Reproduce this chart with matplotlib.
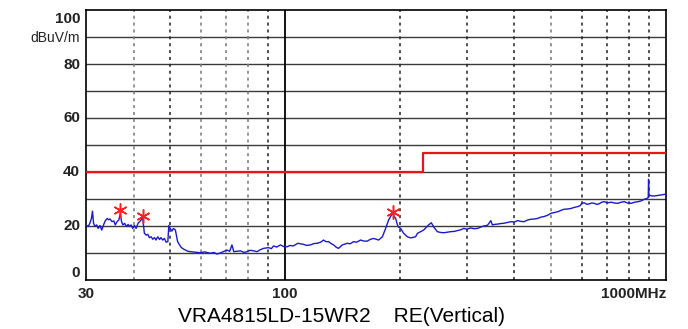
import matplotlib
matplotlib.use("Agg")
import matplotlib.pyplot as plt

plt.rcParams['font.family'] = ['Liberation Sans', 'DejaVu Sans']

freq = [30, 30.4, 30.7, 31.0, 31.2, 31.4, 31.7, 32.0, 32.3, 32.65, 33.0, 33.4, 33.7, 34.1, 34.4,
        34.7, 35.1, 35.5, 35.8, 36.2, 36.6, 36.9, 37.2, 37.5, 37.9, 38.3, 38.7, 39.0, 39.4, 39.8,
        40.2, 40.6, 41.1, 41.5, 41.9, 42.2, 42.5, 42.7, 43.2, 43.6, 44.0, 44.5, 44.9, 45.4, 45.8,
        46.3, 46.8, 47.2, 47.7, 48.2, 48.7, 49.2, 49.5, 49.9, 50.4, 50.9, 51.5, 51.8, 52.2, 52.8,
        53.4, 54.2, 55.4,
        56.3, 58, 59.9, 61.5, 63.6, 65, 66.2, 67.5, 68.8, 70.4, 71.5, 72.5, 73.3, 74.4, 76.3,
        78, 79.4, 81, 82, 84.4, 86, 87.7, 90.4, 92, 93.2, 95, 97.2, 99, 101.2, 103, 105, 108,
        111.7, 114, 116.6, 119, 121.4, 124, 126.1, 128, 130, 132, 134, 136, 138, 141.3, 145.6,
        148, 151.3, 154, 157.8, 161, 164.4, 167, 170.7, 176, 180, 183.6, 187, 191.3, 195, 197.8,
        201, 204.7, 209.4, 213.6, 220, 222.6, 231, 238, 242, 245.6, 251, 256, 261, 266, 272,
        278, 283.5, 289, 294.6, 300, 307, 313, 320, 326, 332.5, 340, 346.8, 350, 355, 361,
        368, 375, 383, 391.6, 400, 408, 416, 424, 433, 442, 451, 460, 470, 478.5, 489,
        499, 510, 520, 530, 540, 552, 563, 575, 587, 595, 601, 610, 620, 628, 638,
        648, 658, 667, 678, 688, 703, 718, 733, 748, 762, 777, 793, 810, 827, 844,
        860, 877, 890, 898, 900, 902, 915, 931, 950, 972, 990, 1000]
level = [20.4, 19.8, 21.0, 22.8, 25.5, 21.0, 19.8, 20.4, 19.1, 20.2, 18.5, 20.6, 21.9, 22.8, 22.3,
         22.6, 21.6, 21.9, 20.4, 21.6, 22.3, 24.6, 21.6, 20.4, 21.0, 19.8, 20.6, 19.8, 20.4, 19.1,
         20.2, 19.1, 21.0, 21.6, 22.3, 23.8, 19.8, 17.3, 16.6, 16.9, 15.7, 16.0, 15.1, 15.7, 14.8,
         16.0, 15.0, 15.7, 14.8, 15.4, 14.0, 14.2, 20.2, 19.1, 18.1, 19.1, 18.5, 16.6, 14.2, 13.0,
         12.0, 11.4, 10.7,
         10.5, 10.3, 10.1, 10.4, 9.9, 10.2, 9.6, 10.0, 10.5, 11.1, 10.6, 13.0, 10.5, 10.6, 10.8,
         10.2, 10.5, 11.0, 10.9, 10.5, 11.2, 11.7, 12.0, 11.6, 12.6, 12.2, 13.0, 12.4, 12.3, 12.8, 12.6, 13.6,
         13.2, 12.8, 13.0, 13.5, 13.6, 14.0, 14.8, 14.2, 14.2, 13.5, 13.0, 12.2, 11.7, 13.0, 13.6,
         13.4, 14.2, 14.0, 14.8, 14.4, 14.4, 15.0, 15.4, 14.8, 16.0, 19.1, 22.3, 24.7, 22.8, 19.8,
         19.1, 17.3, 16.0, 15.6, 16.0, 17.3, 18.5, 20.4, 21.2, 19.6, 17.9, 17.6, 17.5, 17.7, 17.9,
         18.0, 18.3, 18.6, 19.1, 18.8, 19.3, 19.0, 19.1, 19.6, 20.0, 20.3, 22.0, 20.4, 20.6, 20.7,
         20.9, 21.0, 21.3, 21.6, 21.5, 22.0, 21.7, 21.6, 22.2, 22.5, 22.6, 22.8, 23.3, 23.5, 24.0,
         24.7, 25.0, 25.3, 25.8, 26.2, 26.3, 26.5, 26.9, 27.2, 27.5, 28.4, 28.6, 28.0, 28.2, 28.5,
         28.4, 28.0, 28.2, 28.8, 29.0, 28.6, 28.8, 28.5, 28.4, 28.8, 29.0, 28.5, 28.4, 28.8, 29.0,
         29.3, 29.9, 30.2, 30.5, 37.3, 31.5, 31.2, 31.1, 31.3, 31.5, 31.7, 31.8]

# limit line
limit_freq = [30, 230, 230, 1000]
limit_level = [40, 40, 47, 47]

# peak markers
peak_freq = [36.9, 42.4, 192]
peak_level = [26.0, 23.8, 25.2]

# y labels and where they sit (0 and 100 are pulled inside the frame)
y_labels = ["100", "80", "60", "40", "20", "0"]
y_label_pos = [96.7, 79.6, 60, 40, 20, 2.6]

x_dashed = [40, 50, 60, 70, 80, 90, 200, 300, 400, 500, 600, 700, 800, 900]
x_dark = [50, 90, 200, 300, 400, 600, 700, 800, 900]

fig = plt.figure(figsize=(6.88, 3.29), dpi=100)
ax = fig.add_axes([86 / 688, 1 - 280 / 329, 580 / 688, 270 / 329])

for y in range(10, 100, 10):
    ax.axhline(y, color="#3a3a3a", lw=1.0, zorder=1)
for x in x_dashed:
    c = "#202020" if x in x_dark else "#777777"
    ax.axvline(x, color=c, lw=1.1, ls=(0, (2, 2.5)), zorder=1)
ax.axvline(100, color="black", lw=1.3, zorder=1)

ax.plot(limit_freq, limit_level, color="#e8141a", lw=1.6, zorder=3)
ax.plot(freq, level, color="#1a1ac8", lw=1.0, zorder=4)
ax.plot(peak_freq, peak_level, ls="none", marker=(6, 2, 0), ms=10,
        mec="#ff2020", mew=1.1, zorder=5)

ax.set_xscale("log")
ax.set_xlim(30, 1000)
ax.set_ylim(0, 100)
ax.set_xticks([])
ax.set_yticks([])
ax.minorticks_off()
for s in ax.spines.values():
    s.set_color("black")
    s.set_linewidth(1.2)

# axis labels drawn as text like the original instrument plot
ytr = ax.get_yaxis_transform()
for lab, v in zip(y_labels, y_label_pos):
    ax.text(-0.01, v, lab, transform=ytr, ha="right", va="center",
            fontsize=11, fontweight="bold", color="#222222")
ax.text(-0.01, 89.8, "dBuV/m", transform=ytr, ha="right", va="center",
        fontsize=10, color="#222222")

xtr = ax.get_xaxis_transform()
ax.text(30, -0.05, "30", transform=xtr, ha="center", va="center", fontsize=11,
        fontweight="bold", color="#222222")
ax.text(100, -0.05, "100", transform=xtr, ha="center", va="center", fontsize=11,
        fontweight="bold", color="#222222")
ax.text(1000, -0.05, "1000MHz", transform=xtr, ha="right", va="center", fontsize=11,
        fontweight="bold", color="#222222")

fig.text(0.497, 1 - 317 / 329, "VRA4815LD-15WR2    RE(Vertical)", ha="center",
         va="center", fontsize=15)

fig.savefig("out.png", dpi=100)
